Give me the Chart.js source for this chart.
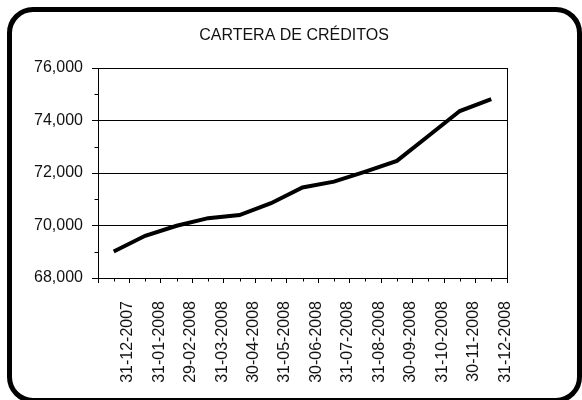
<!DOCTYPE html>
<html>
<head>
<meta charset="utf-8">
<script src="https://cdn.jsdelivr.net/npm/chart.js@4"></script>
<style>
body{margin:0;background:#fff;}
#wrap{position:relative;width:582px;height:400px;overflow:hidden;}
#frame{position:absolute;left:7px;top:7px;width:575px;height:396px;box-sizing:border-box;border:5px solid #000;border-radius:26px;pointer-events:none;}
canvas{position:absolute;left:0;top:0;}
</style>
</head>
<body>
<div id="wrap">
<canvas id="chart" width="582" height="400"></canvas>
<div id="frame"></div>
</div>
<script>
const titleText="CARTERA DE CRÉDITOS";
const dates=["31-12-2007","31-01-2008","29-02-2008","31-03-2008","30-04-2008","31-05-2008","30-06-2008",
             "31-07-2008","31-08-2008","30-09-2008","31-10-2008","30-11-2008","31-12-2008"];
const credits=[69010,69610,69990,70280,70400,70850,71450,71670,72055,72460,73410,74360,74810];
const yMin=68000,yMax=76000,yStep=2000;
const yMinor=[69000,71000,73000,75000];

const fontFamily="'Liberation Sans', Arial, sans-serif";
const font={family:fontFamily,size:16};

// title centred on the whole frame, right border of the plot, minor tick marks
const extras={
    id:'extras',
    afterDraw(chart){
        const {ctx,chartArea:a,scales:{x,y}}=chart;
        ctx.save();
        ctx.fillStyle='#111';
        ctx.font='16px '+fontFamily;
        ctx.textAlign='center';ctx.textBaseline='middle';
        ctx.fillText(titleText,294,36);

        ctx.strokeStyle='#000';ctx.lineWidth=1;
        ctx.beginPath();
        const r=Math.round(a.right)+0.5;
        ctx.moveTo(r,a.top);ctx.lineTo(r,a.bottom+5);
        const l=Math.round(a.left)+0.5;
        yMinor.forEach(v=>{
            const py=Math.round(y.getPixelForValue(v))+0.5;
            ctx.moveTo(l-4,py);ctx.lineTo(l,py);
        });
        const b=Math.round(a.bottom)+0.5;
        dates.forEach((d,i)=>{
            const px=Math.round(x.getPixelForValue(i))+0.5;
            ctx.moveTo(px,b);ctx.lineTo(px,b+3);
        });
        ctx.stroke();
        ctx.restore();
    }
};

new Chart(document.getElementById("chart").getContext("2d"),{
    type:'line',
    data:{labels:dates,datasets:[{data:credits,borderColor:'#000',borderWidth:4,pointRadius:0,tension:0,fill:false}]},
    options:{
        responsive:false,animation:false,devicePixelRatio:1,
        layout:{padding:{left:0,right:75,top:68,bottom:0}},
        plugins:{
            legend:{display:false},tooltip:{enabled:false},title:{display:false}
        },
        scales:{
            x:{
                offset:true,
                grid:{display:true,offset:true,drawOnChartArea:false,drawTicks:true,tickLength:5,color:'#000'},
                border:{display:true,color:'#000',width:1},
                ticks:{color:'#111',font:font,minRotation:90,maxRotation:90,autoSkip:false,padding:18,labelOffset:14},
                afterFit(s){s.height=122;}
            },
            y:{
                min:yMin,max:yMax,
                grid:{color:'#000',lineWidth:1,drawTicks:true,tickLength:6},
                border:{display:true,color:'#000',width:1},
                ticks:{stepSize:yStep,color:'#111',font:font,padding:9,
                       callback:v=>v.toLocaleString('en-US')},
                afterFit(s){s.width=98;}
            }
        }
    },
    plugins:[extras]
});
</script>
</body>
</html>
